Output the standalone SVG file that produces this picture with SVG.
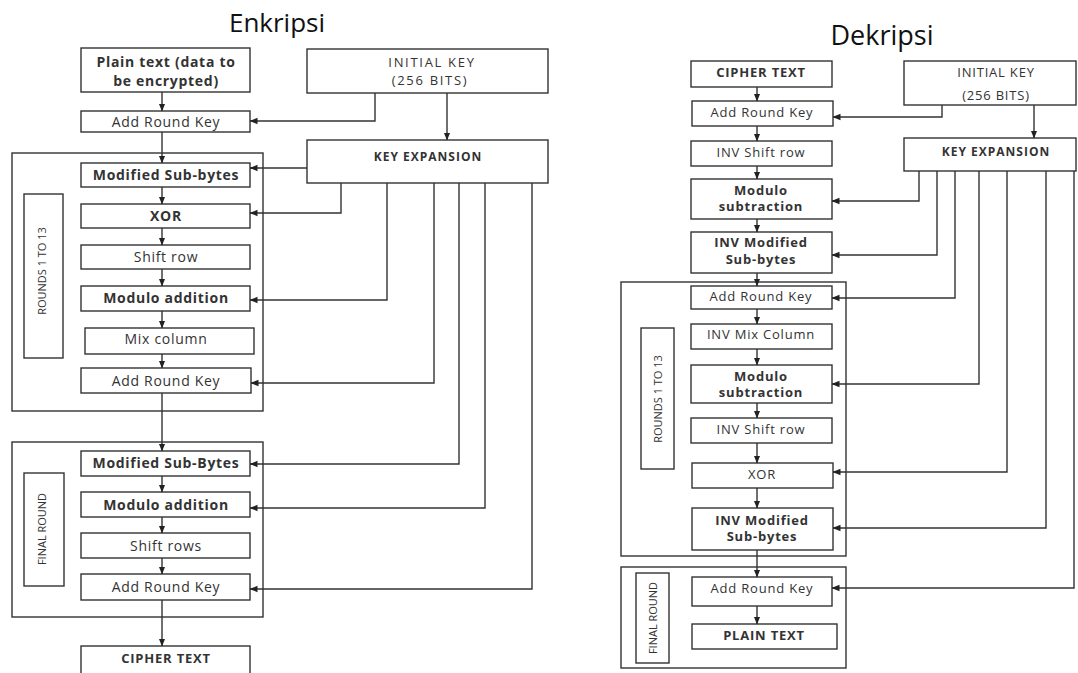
<svg xmlns="http://www.w3.org/2000/svg" width="1078" height="673" viewBox="0 0 1078 673">
<defs>
<marker id="ah" markerUnits="userSpaceOnUse" markerWidth="8" markerHeight="8" viewBox="0 0 8 8" refX="7.5" refY="4" orient="auto">
<path d="M0,0.8 L8,4 L0,7.2 Z" fill="#222"/>
</marker>
<style>
rect{fill:#fff;stroke:#333;stroke-width:1.4}
rect.frame{fill:none}
.c path{fill:none;stroke:#333;stroke-width:1.4;marker-end:url(#ah)}
.c path.n{marker-end:none}
text{font-family:"Open Sans","Noto Sans","Liberation Sans",sans-serif;fill:#333;text-anchor:middle}
.t{font-size:26px;fill:#111}
.r{font-size:14px;letter-spacing:0.7px}
.b{font-size:14px;font-weight:bold;letter-spacing:0.7px}
.rr{font-size:13px;letter-spacing:0.8px}
.bb{font-size:13px;font-weight:bold;letter-spacing:0.8px}
.k{font-size:13px;letter-spacing:1.7px}
.kb{font-size:12px;font-weight:bold;letter-spacing:1px}
.v{font-size:11px}
</style>
</defs>

<text class="t" x="277" y="32">Enkripsi</text>
<text class="t" x="882" y="45" style="font-size:27px">Dekripsi</text>

<!-- ENCRYPTION frames -->
<g id="enc-rounds"><rect class="frame" x="12" y="153" width="251" height="258"/></g>
<g id="enc-final"><rect class="frame" x="12" y="442" width="251" height="175"/></g>

<g id="enc-plain"><rect x="81" y="48" width="169" height="44"/><text class="b" x="166" y="67">Plain text (data to</text><text class="b" x="166" y="86">be encrypted)</text></g>
<g id="enc-ark0"><rect x="81" y="111" width="169" height="21"/><text class="r" x="166" y="127">Add Round Key</text></g>
<g id="enc-msb"><rect x="81" y="163" width="169" height="24"/><text class="b" x="166" y="180">Modified Sub-bytes</text></g>
<g id="enc-xor"><rect x="81" y="204" width="169" height="24"/><text class="b" x="166" y="221">XOR</text></g>
<g id="enc-shift"><rect x="81" y="245" width="169" height="24"/><text class="r" x="166" y="262">Shift row</text></g>
<g id="enc-modadd"><rect x="81" y="286" width="169" height="25"/><text class="b" x="166" y="303">Modulo addition</text></g>
<g id="enc-mix"><rect x="85" y="328" width="169" height="26"/><text class="r" x="166" y="344">Mix column</text></g>
<g id="enc-ark1"><rect x="81" y="368" width="170" height="25"/><text class="r" x="166" y="386">Add Round Key</text></g>
<g id="enc-rounds-label"><rect x="24" y="194" width="39" height="164"/><text class="v" transform="translate(46,271) rotate(-90)">ROUNDS 1 TO 13</text></g>

<g id="enc-msb2"><rect x="81" y="451" width="169" height="25"/><text class="b" x="166" y="468">Modified Sub-Bytes</text></g>
<g id="enc-modadd2"><rect x="81" y="492" width="169" height="25"/><text class="b" x="166" y="510">Modulo addition</text></g>
<g id="enc-shift2"><rect x="81" y="533" width="169" height="25"/><text class="r" x="166" y="551">Shift rows</text></g>
<g id="enc-ark2"><rect x="81" y="574" width="169" height="26"/><text class="r" x="166" y="592">Add Round Key</text></g>
<g id="enc-final-label"><rect x="24" y="473" width="40" height="113"/><text class="v" transform="translate(46,529) rotate(-90)">FINAL ROUND</text></g>
<g id="enc-cipher"><rect x="81" y="646" width="169" height="40"/><text class="bb" x="166" y="663">CIPHER TEXT</text></g>

<g id="enc-initkey"><rect x="307" y="49" width="241" height="44"/><text class="k" x="432" y="67">INITIAL KEY</text><text class="k" x="430" y="85">(256 BITS)</text></g>
<g id="enc-keyexp"><rect x="307" y="140" width="241" height="43"/><text class="kb" x="428" y="161">KEY EXPANSION</text></g>

<!-- DECRYPTION frames -->
<g id="dec-rounds"><rect class="frame" x="621" y="282" width="225" height="274"/></g>
<g id="dec-final"><rect class="frame" x="621" y="567" width="225" height="101"/></g>

<g id="dec-cipher"><rect x="691" y="61" width="141" height="26"/><text class="bb" x="761" y="77">CIPHER TEXT</text></g>
<g id="dec-ark0"><rect x="692" y="101" width="141" height="25"/><text class="rr" x="762" y="117">Add Round Key</text></g>
<g id="dec-ishift"><rect x="691" y="141" width="141" height="25"/><text class="rr" x="761" y="157">INV Shift row</text></g>
<g id="dec-modsub"><rect x="691" y="179" width="141" height="40"/><text class="bb" x="761" y="195">Modulo</text><text class="bb" x="761" y="211">subtraction</text></g>
<g id="dec-imsb"><rect x="691" y="232" width="141" height="41"/><text class="bb" x="761" y="247">INV Modified</text><text class="bb" x="761" y="264">Sub-bytes</text></g>

<g id="dec-ark1"><rect x="691" y="286" width="141" height="23"/><text class="rr" x="761" y="301">Add Round Key</text></g>
<g id="dec-imix"><rect x="691" y="324" width="141" height="25"/><text class="rr" x="761" y="339">INV Mix Column</text></g>
<g id="dec-modsub2"><rect x="691" y="365" width="141" height="38"/><text class="bb" x="761" y="381">Modulo</text><text class="bb" x="761" y="397">subtraction</text></g>
<g id="dec-ishift2"><rect x="691" y="418" width="141" height="25"/><text class="rr" x="761" y="434">INV Shift row</text></g>
<g id="dec-xor"><rect x="692" y="463" width="141" height="25"/><text class="rr" x="762" y="479">XOR</text></g>
<g id="dec-imsb2"><rect x="692" y="508" width="141" height="42"/><text class="bb" x="762" y="525">INV Modified</text><text class="bb" x="762" y="541">Sub-bytes</text></g>
<g id="dec-rounds-label"><rect x="641" y="328" width="33" height="141"/><text class="v" transform="translate(662,399) rotate(-90)">ROUNDS 1 TO 13</text></g>

<g id="dec-ark2"><rect x="692" y="577" width="140" height="29"/><text class="rr" x="762" y="593">Add Round Key</text></g>
<g id="dec-plain"><rect x="692" y="624" width="145" height="25"/><text class="bb" x="764" y="640">PLAIN TEXT</text></g>
<g id="dec-final-label"><rect x="636" y="573" width="33" height="90"/><text class="v" transform="translate(657,618) rotate(-90)">FINAL ROUND</text></g>

<g id="dec-initkey"><rect x="904" y="61" width="172" height="44"/><text class="rr" x="996" y="77">INITIAL KEY</text><text class="rr" x="996" y="100">(256 BITS)</text></g>
<g id="dec-keyexp"><rect x="904" y="138" width="172" height="33"/><text class="kb" x="996" y="156">KEY EXPANSION</text></g>

<g id="connectors" class="c">
<!-- encryption main flow -->
<path d="M162,92 V111"/>
<path d="M162,132 V163"/>
<path d="M162,187 V204"/>
<path d="M162,228 V245"/>
<path d="M162,269 V286"/>
<path d="M162,311 V328"/>
<path d="M162,354 V368"/>
<path d="M162,393 V451"/>
<path d="M162,476 V492"/>
<path d="M162,517 V533"/>
<path d="M162,558 V574"/>
<path d="M162,600 V646"/>
<!-- encryption key lines -->
<path d="M375,93 V121 H250"/>
<path d="M447,93 V140"/>
<path d="M307,168 H250"/>
<path d="M341,183 V213 H250"/>
<path d="M387,183 V300 H250"/>
<path d="M434,183 V383 H251"/>
<path d="M459,183 V464 H250"/>
<path d="M485,183 V508 H250"/>
<path d="M532,183 V589 H250"/>
<!-- decryption main flow -->
<path d="M757,87 V101"/>
<path d="M757,126 V141"/>
<path d="M757,166 V179"/>
<path d="M757,219 V232"/>
<path d="M757,273 V286"/>
<path d="M757,309 V324"/>
<path d="M757,349 V365"/>
<path d="M757,403 V418"/>
<path d="M757,443 V463"/>
<path d="M757,488 V508"/>
<path d="M757,550 V577"/>
<path d="M757,606 V624"/>
<!-- decryption key lines -->
<path d="M942,105 V117 H833"/>
<path d="M1034,105 V138"/>
<path d="M919,171 V201 H832"/>
<path d="M937,171 V255 H832"/>
<path d="M955,171 V298 H832"/>
<path d="M979,171 V384 H832"/>
<path d="M1007,171 V472 H833"/>
<path d="M1046,171 V528 H833"/>
<path d="M1074,171 V588 H832"/>
</g>
</svg>
